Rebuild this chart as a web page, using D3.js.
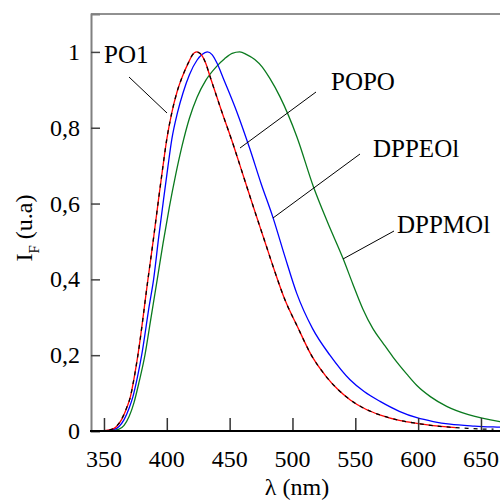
<!DOCTYPE html>
<html><head><meta charset="utf-8">
<script src="https://cdn.jsdelivr.net/npm/d3@7"></script>
<style>body{margin:0;background:#fff}svg{display:block}</style>
</head><body>
<script>
// ---- data ----
const po1Wl = [340,350,356,360,364,368,371,374,377,385,389.5,393,397,400,404,408,413,418,420,423.8,426,428,431,434.4,443.7,452.9,457.7,468,478,486,494,504,515,527,536,546,558,570,585,599,612,625,630];
const po1I  = [0,0.001,0.004,0.012,0.03,0.06,0.09,0.14,0.2,0.4,0.51,0.6,0.7,0.77,0.84,0.893,0.94,0.977,0.99,1.0,0.997,0.99,0.97,0.935,0.843,0.755,0.706,0.6,0.5,0.42,0.346,0.275,0.2,0.143,0.11,0.082,0.058,0.042,0.028,0.02,0.014,0.01,0.009];
const popoWl = [340,350,356,360,364,368,371,374,377,385,389.5,393,397,400,404,408,413,418,420,423.8,426,428,431,434.4,443.7,452.9,457.7,468,478,486,494,504,515,527,536,546,558,570,585,599,612,625,640,655,660];
const popoI  = [0,0.001,0.004,0.013,0.031,0.061,0.09,0.14,0.2,0.4,0.51,0.6,0.7,0.77,0.84,0.893,0.94,0.977,0.99,1.0,0.997,0.99,0.97,0.935,0.843,0.755,0.706,0.6,0.5,0.42,0.346,0.275,0.2,0.143,0.11,0.082,0.058,0.042,0.028,0.02,0.014,0.01,0.007,0.005,0.005];
const dppeolWl = [340,352,358,362,366,370,373,376.5,380,386,389.5,393.5,397,401,404,408.5,413,418,424,428,432.2,436,440,445,455.6,466,475,484.7,494,503.4,516,529.8,545.8,557,569.7,585,599,612,625.4,645,665,680];
const dppeolI  = [0,0.001,0.004,0.012,0.03,0.06,0.09,0.14,0.2,0.33,0.4,0.51,0.6,0.7,0.77,0.84,0.893,0.94,0.978,0.993,1.0,0.993,0.97,0.93,0.843,0.745,0.653,0.561,0.46,0.363,0.27,0.2,0.135,0.104,0.078,0.052,0.035,0.025,0.018,0.013,0.01,0.008];
const dppmolWl = [340,356,362,366,370,373.9,378,382.6,387,392.4,397,402,407,412,418,424,431,439.7,446,452,458,463.6,470,476,482,490,503.4,516.6,528,540.5,548,556,564,572,580,591,599,610,622.7,640,665,680];
const dppmolI  = [0,0.001,0.005,0.015,0.038,0.075,0.13,0.2,0.29,0.4,0.495,0.59,0.675,0.75,0.825,0.88,0.925,0.962,0.982,0.996,1.0,0.993,0.98,0.96,0.93,0.882,0.777,0.645,0.55,0.453,0.388,0.322,0.27,0.232,0.195,0.15,0.12,0.09,0.065,0.043,0.025,0.019];
const xTicks = [350,400,450,500,550,600,650];
const yTicks = [0,0.2,0.4,0.6,0.8,1];
const yTickLabels = ["0","0,2","0,4","0,6","0,8","1"];
const seriesNames = ["PO1","POPO","DPPEOl","DPPMOl"];
const seriesColors = ["#ff0000","#000000","#0000ff","#0a7a1e"];

// ---- chart ----
const FONT = "'Liberation Serif','Times New Roman','DejaVu Serif',serif";
const W=500,H=500;
const x = d3.scaleLinear().domain([340,680]).range([91.4,91.4+340*1.2567]);
const y = d3.scaleLinear().domain([0,1.1]).range([431,14]);
const svg = d3.select("body").append("svg").attr("width",W).attr("height",H)
  .attr("font-family",FONT);
svg.append("defs").append("clipPath").attr("id","clip").append("rect")
  .attr("x",91).attr("y",14).attr("width",420).attr("height",417);

// top border
svg.append("line").attr("x1",91).attr("x2",W).attr("y1",14).attr("y2",14).attr("stroke","#222").attr("stroke-width",1);

// curves
const line = d3.line().x(d=>x(d[0])).y(d=>y(d[1])).curve(d3.curveMonotoneX);
const data = [d3.zip(po1Wl,po1I), d3.zip(popoWl,popoI), d3.zip(dppeolWl,dppeolI), d3.zip(dppmolWl,dppmolI)];
const g = svg.append("g").attr("clip-path","url(#clip)");
[3,2,0,1].forEach(i=>{
  g.append("path").datum(data[i]).attr("d",line).attr("fill","none")
   .attr("stroke",seriesColors[i]).attr("stroke-width",1.3)
   .attr("stroke-dasharray", i===1 ? "4,5" : null);
});

// axes
const yAxis = d3.axisRight(y).tickValues(yTicks).tickSize(9).tickFormat("");
const ya = svg.append("g").attr("transform","translate(91,0)").call(yAxis);
ya.select(".domain").attr("stroke","#808080").attr("stroke-width",2);
ya.selectAll(".tick line").attr("stroke","#444").attr("stroke-width",1.5);
const xAxis = d3.axisTop(x).tickValues(xTicks).tickSize(13).tickFormat("");
const xa = svg.append("g").attr("transform","translate(0,431)").call(xAxis);
xa.select(".domain").remove();
xa.selectAll(".tick line").attr("stroke","#333").attr("stroke-width",1.5);
svg.append("line").attr("x1",90).attr("x2",W).attr("y1",431).attr("y2",431).attr("stroke","#000").attr("stroke-width",2);

// tick labels
svg.selectAll(".xl").data(xTicks).enter().append("text").attr("class","xl")
  .attr("font-family",FONT)
  .attr("x",d=>x(d)).attr("y",467).attr("text-anchor","middle").attr("font-size",24).text(d=>d);
svg.selectAll(".yl").data(yTicks).enter().append("text").attr("class","yl")
  .attr("font-family",FONT)
  .attr("x",80).attr("y",d=>y(d)+8).attr("text-anchor","end").attr("font-size",24).text((d,i)=>yTickLabels[i]);

// axis titles
svg.append("text").attr("font-family",FONT).attr("x",297).attr("y",495).attr("text-anchor","middle").attr("font-size",24).text("λ (nm)");
const yt = svg.append("text").attr("font-family",FONT).attr("transform","translate(32,228) rotate(-90)").attr("text-anchor","middle").attr("font-size",24);
yt.append("tspan").text("I");
yt.append("tspan").attr("font-size",15).attr("dy",7).text("F");
yt.append("tspan").attr("dy",-7).text(" (u.a)");

// series labels with leader lines
const labels = [
  {n:0, tx:104, ty:63, l:[[129,77],[167,113]]},
  {n:1, tx:331, ty:90, l:[[316,92],[240,148]]},
  {n:2, tx:373, ty:157, l:[[360,154],[273,218]]},
  {n:3, tx:397, ty:233, l:[[394,231],[343,259]]}
];
labels.forEach(o=>{
  svg.append("text").attr("font-family",FONT).attr("x",o.tx).attr("y",o.ty).attr("font-size",25).text(seriesNames[o.n]);
  svg.append("line").attr("x1",o.l[0][0]).attr("y1",o.l[0][1]).attr("x2",o.l[1][0]).attr("y2",o.l[1][1])
    .attr("stroke","#000").attr("stroke-width",1);
});
</script>
</body></html>
